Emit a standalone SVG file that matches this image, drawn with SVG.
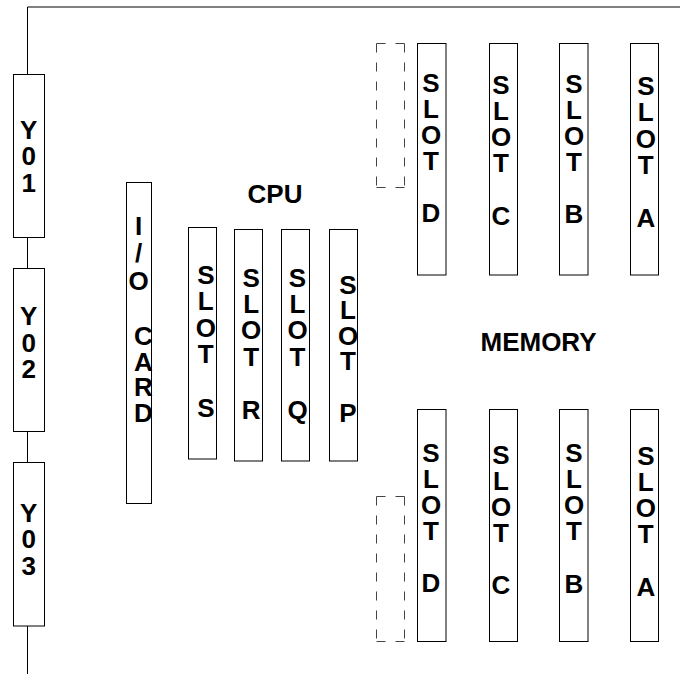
<svg xmlns="http://www.w3.org/2000/svg" width="680" height="674" viewBox="0 0 680 674">
<style>
.box{fill:#fff;stroke:#000;stroke-width:1}
.dash{fill:none;stroke:#444;stroke-width:1}
.wire{fill:none;stroke:#000;stroke-width:1}
.t{font-family:"Liberation Sans",Arial,sans-serif;font-weight:bold;font-size:26px;text-anchor:middle;fill:#000}
</style>
<rect width="680" height="674" fill="#fff"/>
<g id="connectors">
<path class="wire" d="M27.5,7 H680 M27.5,7 V74.5 M27.5,237.5 V268.5 M27.5,431.5 V462.5 M27.5,626 V674"/>
</g>
<g id="Y01"><rect class="box" x="13.5" y="74.5" width="31" height="163"/>
<text class="t"><tspan x="28.7" y="138.5">Y</tspan><tspan x="28.7" y="165">0</tspan><tspan x="28.7" y="191.5">1</tspan></text></g>
<g id="Y02"><rect class="box" x="13.5" y="268.5" width="31" height="163"/>
<text class="t"><tspan x="28.7" y="325">Y</tspan><tspan x="28.7" y="351.5">0</tspan><tspan x="28.7" y="378">2</tspan></text></g>
<g id="Y03"><rect class="box" x="13.5" y="462.5" width="31" height="163.5"/>
<text class="t"><tspan x="28.7" y="521.5">Y</tspan><tspan x="28.7" y="548">0</tspan><tspan x="28.7" y="574.5">3</tspan></text></g>
<g id="io-card"><rect class="box" x="126.5" y="182.5" width="25" height="321"/>
<text class="t"><tspan x="138.5" y="234.5">I</tspan><tspan x="138.5" y="261.5">/</tspan><tspan x="138.5" y="289.5">O</tspan><tspan x="143.5" y="345">C</tspan><tspan x="143.5" y="370.5">A</tspan><tspan x="143.5" y="396">R</tspan><tspan x="143.5" y="421.5">D</tspan></text></g>
<g id="cpu-label"><text class="t" x="275" y="203">CPU</text></g>
<g id="cpu-slot-s"><rect class="box" x="188.5" y="227.5" width="28" height="231.5"/>
<text class="t"><tspan x="205.8" y="283.5">S</tspan><tspan x="205.8" y="310.1">L</tspan><tspan x="205.8" y="336.7">O</tspan><tspan x="205.8" y="363.3">T</tspan><tspan x="205.8" y="416.5">S</tspan></text></g>
<g id="cpu-slot-r"><rect class="box" x="234.5" y="229.5" width="28" height="231.5"/>
<text class="t"><tspan x="251.2" y="286.5">S</tspan><tspan x="251.2" y="312.9">L</tspan><tspan x="251.2" y="339.3">O</tspan><tspan x="251.2" y="365.7">T</tspan><tspan x="251.2" y="418.5">R</tspan></text></g>
<g id="cpu-slot-q"><rect class="box" x="281.5" y="229.5" width="28" height="231.5"/>
<text class="t"><tspan x="297.5" y="286.5">S</tspan><tspan x="297.5" y="312.9">L</tspan><tspan x="297.5" y="339.3">O</tspan><tspan x="297.5" y="365.7">T</tspan><tspan x="297.5" y="418.5">Q</tspan></text></g>
<g id="cpu-slot-p"><rect class="box" x="329.5" y="229.5" width="28" height="231.5"/>
<text class="t"><tspan x="348" y="293.5">S</tspan><tspan x="348" y="319.1">L</tspan><tspan x="348" y="344.7">O</tspan><tspan x="348" y="370.3">T</tspan><tspan x="348" y="421.5">P</tspan></text></g>
<g id="mem-top-empty"><path class="dash" d="M376.5,43.5 h28 M376.5,43.5 v144 M404.5,43.5 v144 M376.5,187.5 h28" stroke-dasharray="9 10"/></g>
<g id="mem-top-d"><rect class="box" x="417.5" y="43.5" width="28.5" height="231.5"/>
<text class="t"><tspan x="431" y="92">S</tspan><tspan x="431" y="118">L</tspan><tspan x="431" y="144">O</tspan><tspan x="431" y="170">T</tspan><tspan x="431" y="222">D</tspan></text></g>
<g id="mem-top-c"><rect class="box" x="489.5" y="43.5" width="28" height="231.5"/>
<text class="t"><tspan x="501" y="94">S</tspan><tspan x="501" y="120">L</tspan><tspan x="501" y="146">O</tspan><tspan x="501" y="172">T</tspan><tspan x="501" y="224.5">C</tspan></text></g>
<g id="mem-top-b"><rect class="box" x="559.5" y="43.5" width="28.5" height="231.5"/>
<text class="t"><tspan x="574" y="92.5">S</tspan><tspan x="574" y="118.5">L</tspan><tspan x="574" y="144.5">O</tspan><tspan x="574" y="170.5">T</tspan><tspan x="574" y="223">B</tspan></text></g>
<g id="mem-top-a"><rect class="box" x="630.5" y="43.5" width="28" height="231.5"/>
<text class="t"><tspan x="645.8" y="95">S</tspan><tspan x="645.8" y="121.3">L</tspan><tspan x="645.8" y="147.6">O</tspan><tspan x="645.8" y="173.9">T</tspan><tspan x="645.8" y="226.5">A</tspan></text></g>
<g id="memory-label"><text class="t" x="538.5" y="350.5">MEMORY</text></g>
<g id="mem-bot-empty"><path class="dash" d="M376.5,496.5 h28 M376.5,496.5 v145 M404.5,496.5 v145 M376.5,641.5 h28" stroke-dasharray="9 10"/></g>
<g id="mem-bot-d"><rect class="box" x="417.5" y="409.5" width="28.5" height="232"/>
<text class="t"><tspan x="431" y="461.5">S</tspan><tspan x="431" y="487.5">L</tspan><tspan x="431" y="513.5">O</tspan><tspan x="431" y="539.5">T</tspan><tspan x="431" y="591.5">D</tspan></text></g>
<g id="mem-bot-c"><rect class="box" x="489.5" y="409.5" width="28" height="232"/>
<text class="t"><tspan x="501" y="463.5">S</tspan><tspan x="501" y="489.5">L</tspan><tspan x="501" y="515.5">O</tspan><tspan x="501" y="541.5">T</tspan><tspan x="501" y="594">C</tspan></text></g>
<g id="mem-bot-b"><rect class="box" x="559.5" y="409.5" width="28.5" height="232"/>
<text class="t"><tspan x="574" y="462">S</tspan><tspan x="574" y="488">L</tspan><tspan x="574" y="514">O</tspan><tspan x="574" y="540">T</tspan><tspan x="574" y="592.5">B</tspan></text></g>
<g id="mem-bot-a"><rect class="box" x="630.5" y="409.5" width="28" height="232"/>
<text class="t"><tspan x="645.8" y="464.5">S</tspan><tspan x="645.8" y="490.8">L</tspan><tspan x="645.8" y="517.1">O</tspan><tspan x="645.8" y="543.4">T</tspan><tspan x="645.8" y="596">A</tspan></text></g>
</svg>
